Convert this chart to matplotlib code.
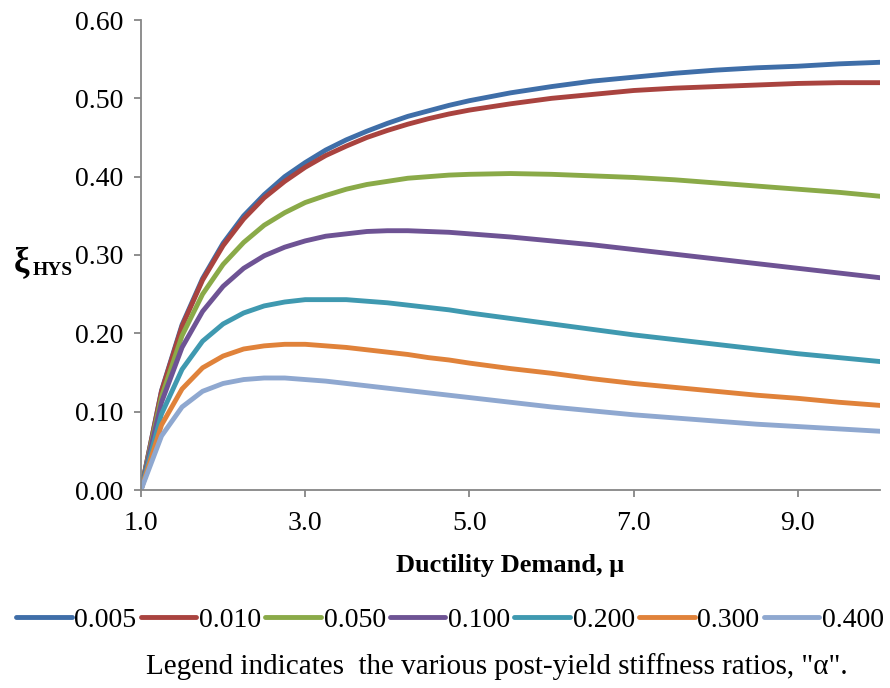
import matplotlib
matplotlib.use("Agg")
import matplotlib.pyplot as plt

# ductility demand values
mu = [1.0, 1.25, 1.5, 1.75, 2.0, 2.25, 2.5, 2.75, 3.0, 3.25, 3.5, 3.75, 4.0, 4.25, 4.5, 4.75,
      5.0, 5.5, 6.0, 6.5, 7.0, 7.5, 8.0, 8.5, 9.0, 9.5, 10.0]

# hysteretic damping, one list per post-yield stiffness ratio
xi_005 = [0.0, 0.127, 0.211, 0.270, 0.315, 0.350, 0.377, 0.400, 0.418, 0.434, 0.447, 0.458,
          0.468, 0.477, 0.484, 0.491, 0.497, 0.507, 0.515, 0.522, 0.527, 0.532, 0.536,
          0.539, 0.541, 0.544, 0.546]
xi_010 = [0.0, 0.126, 0.209, 0.268, 0.312, 0.346, 0.373, 0.394, 0.412, 0.427, 0.439, 0.450,
          0.459, 0.467, 0.474, 0.480, 0.485, 0.493, 0.500, 0.505, 0.510, 0.513, 0.515,
          0.517, 0.519, 0.520, 0.520]
xi_050 = [0.0, 0.119, 0.197, 0.250, 0.288, 0.316, 0.338, 0.354, 0.367, 0.376, 0.384, 0.390,
          0.394, 0.398, 0.400, 0.402, 0.403, 0.404, 0.403, 0.401, 0.399, 0.396, 0.392,
          0.388, 0.384, 0.380, 0.375]
xi_100 = [0.0, 0.112, 0.182, 0.228, 0.260, 0.283, 0.299, 0.310, 0.318, 0.324, 0.327, 0.330,
          0.331, 0.331, 0.330, 0.329, 0.327, 0.323, 0.318, 0.313, 0.307, 0.301, 0.295,
          0.289, 0.283, 0.277, 0.271]
xi_200 = [0.0, 0.097, 0.154, 0.190, 0.212, 0.226, 0.235, 0.240, 0.243, 0.243, 0.243, 0.241,
          0.239, 0.236, 0.233, 0.230, 0.226, 0.219, 0.212, 0.205, 0.198, 0.192, 0.186,
          0.180, 0.174, 0.169, 0.164]
xi_300 = [0.0, 0.083, 0.129, 0.156, 0.171, 0.180, 0.184, 0.186, 0.186, 0.184, 0.182, 0.179,
          0.176, 0.173, 0.169, 0.166, 0.162, 0.155, 0.149, 0.142, 0.136, 0.131, 0.126,
          0.121, 0.117, 0.112, 0.108]
xi_400 = [0.0, 0.069, 0.106, 0.126, 0.136, 0.141, 0.143, 0.143, 0.141, 0.139, 0.136, 0.133,
          0.130, 0.127, 0.124, 0.121, 0.118, 0.112, 0.106, 0.101, 0.096, 0.092, 0.088,
          0.084, 0.081, 0.078, 0.075]

series = [xi_005, xi_010, xi_050, xi_100, xi_200, xi_300, xi_400]
labels = ["0.005", "0.010", "0.050", "0.100", "0.200", "0.300", "0.400"]
colors = ["#3F6EA8", "#A9433F", "#8AAA48", "#6E5394", "#3F99B0", "#E0823A", "#8FA8D0"]

x_ticks = [1.0, 3.0, 5.0, 7.0, 9.0]
y_ticks = [0.0, 0.1, 0.2, 0.3, 0.4, 0.5, 0.6]

plt.rcParams['font.family'] = ['Liberation Serif', 'DejaVu Serif']

fig = plt.figure(figsize=(8.9, 6.88), dpi=100)
ax = fig.add_axes([141/890, 1-490/688, (880-141)/890, (490-20)/688])

lines = []
for y, c in zip(series, colors):
	l, = ax.plot(mu, y, color=c, linewidth=3.5, solid_capstyle='round',
	             solid_joinstyle='round')
	lines.append(l)

ax.set_xlim(1.0, 10.0)
ax.set_ylim(0.0, 0.6)
ax.set_xticks(x_ticks)
ax.set_xticklabels(["%.1f" % v for v in x_ticks])
ax.set_yticks(y_ticks)
ax.set_yticklabels(["%.2f" % v for v in y_ticks])
for s in ['top', 'right']:
	ax.spines[s].set_visible(False)
for s in ['left', 'bottom']:
	ax.spines[s].set_color('#868686')
	ax.spines[s].set_linewidth(1.3)
ax.tick_params(axis='both', colors='#868686', length=5, width=1.3, labelsize=20,
               labelcolor='black', direction='out')
ax.tick_params(axis='x', pad=10)
ax.tick_params(axis='y', pad=8)

ax.set_xlabel("Ductility Demand, \u03bc", fontsize=19, fontweight='bold', labelpad=13)

# y label: xi with bold HYS subscript
fig.text(14/890, 1-264/688, "\u03be", fontsize=25, fontweight='bold', va='center', ha='left')
fig.text(33/890, 1-271/688, "HYS", fontsize=14, fontweight='bold', va='center', ha='left')

fig.legend(lines, labels, loc='center', bbox_to_anchor=(450/890, 1-620/688), ncol=7,
           frameon=False, fontsize=20, handlelength=2.0, handletextpad=0.1,
           columnspacing=0.15)

fig.text(497/890, 1-667/688, "Legend indicates  the various post-yield stiffness ratios, \"\u03b1\".",
         fontsize=21, ha='center', va='center')

fig.savefig("out.png", dpi=100)
